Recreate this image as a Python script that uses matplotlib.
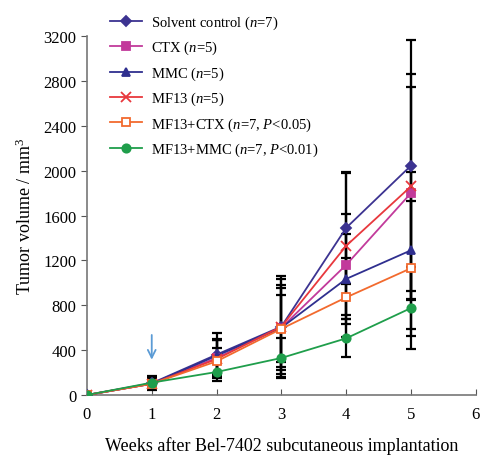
import matplotlib
matplotlib.use("Agg")

import matplotlib.pyplot as plt

plt.rcParams["font.family"] = "Liberation Serif"
plt.rcParams["mathtext.fontset"] = "custom"
plt.rcParams["mathtext.rm"] = "Liberation Serif"
plt.rcParams["mathtext.it"] = "Liberation Serif:italic"

weeks = [0, 1, 2, 3, 4, 5]

labels = [
    "Solvent control ($n$=7)",
    "CTX ($n$=5)",
    "MMC ($n$=5)",
    "MF13 ($n$=5)",
    "MF13+CTX ($n$=7, $P$<0.05)",
    "MF13+MMC ($n$=7, $P$<0.01)",
]

solvent = [0, 105, 360, 610, 1490, 2045]
ctx = [0, 100, 330, 600, 1160, 1800]
mmc = [0, 100, 350, 600, 1035, 1290]
mf13 = [0, 100, 320, 610, 1330, 1860]
mf13_ctx = [0, 100, 300, 590, 870, 1130]
mf13_mmc = [0, 110, 205, 330, 505, 775]

solvent_err = [0, 60, 190, 450, 500, 1120]
ctx_err = [0, 50, 160, 380, 450, 950]
mmc_err = [0, 50, 150, 350, 400, 700]
mf13_err = [0, 50, 170, 420, 650, 1000]
mf13_ctx_err = [0, 40, 120, 300, 350, 600]
mf13_mmc_err = [0, 40, 80, 180, 170, 365]

series = [solvent, ctx, mmc, mf13, mf13_ctx, mf13_mmc]
errors = [solvent_err, ctx_err, mmc_err, mf13_err, mf13_ctx_err, mf13_mmc_err]

colors = ["#3c3391", "#c23a9b", "#2f2f8f", "#e8383d", "#f26a2e", "#1f9e4b"]
markers = ["D", "s", "^", "x", "s", "o"]
msizes = [5, 6, 6, 7, 6, 6]
faces = ["#3c3391", "#c23a9b", "#2f2f8f", "#e8383d", "white", "#1f9e4b"]

fig = plt.figure(figsize=(4.83, 4.56), dpi=100)
ax = fig.add_axes([0.180, 0.1316, 0.805, 0.787])

for ys, es in zip(series, errors):
    ax.errorbar(weeks, ys, yerr=es, fmt="none", ecolor="black",
                elinewidth=1.6, capsize=3.5, capthick=1.6, zorder=2)

handles = []
for ys, lab, c, m, ms, fc in zip(series, labels, colors, markers, msizes, faces):
    h, = ax.plot(weeks, ys, color=c, marker=m, markersize=ms,
                 markerfacecolor=fc, markeredgecolor=c, markeredgewidth=1.3,
                 linewidth=1.3, label=lab, zorder=3)
    handles.append(h)

# treatment start
ax.annotate("", xy=(1, 290), xytext=(1, 560),
            arrowprops=dict(arrowstyle="->", color="#5b9bd5", lw=1.3,
                            mutation_scale=14))

ax.set_xlim(0, 6)
ax.set_ylim(0, 3200)
ax.set_xticks(range(0, 7))
ax.set_yticks(range(0, 3201, 400))
ax.tick_params(axis="x", direction="in", length=4, labelsize=12, pad=8,
               color="#555555")
ax.tick_params(axis="y", direction="out", length=4, labelsize=12,
               color="#555555")
for side in ["top", "right"]:
    ax.spines[side].set_visible(False)
for side in ["left", "bottom"]:
    ax.spines[side].set_color("#777777")
    ax.spines[side].set_linewidth(1.2)

ax.set_xlabel("Weeks after Bel-7402 subcutaneous implantation", fontsize=13,
              labelpad=10)
ax.set_ylabel("Tumor volume / mm$^3$", fontsize=13, labelpad=6)

fig.legend(handles=handles, loc="upper left", bbox_to_anchor=(0.207, 0.99),
           frameon=False, fontsize=10.5, handlelength=2.2, handletextpad=0.6,
           labelspacing=0.55, borderaxespad=0.3)

fig.savefig("out.png", dpi=100)
